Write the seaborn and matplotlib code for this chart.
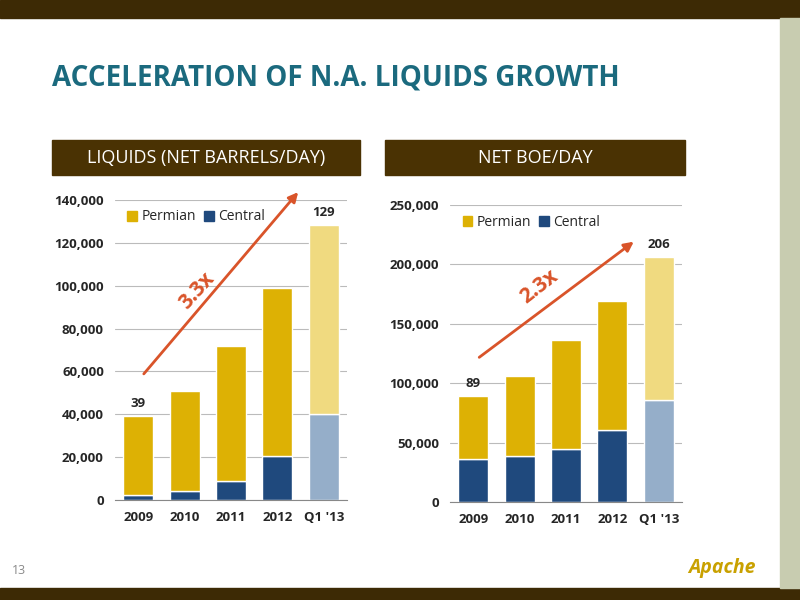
import matplotlib
matplotlib.use("Agg")
import matplotlib.pyplot as plt
import seaborn as sns
import pandas as pd
from matplotlib.patches import Rectangle

sns.set_style("white")
plt.rcParams['font.family'] = ['Open Sans', 'DejaVu Sans']

years = ["2009", "2010", "2011", "2012", "Q1 '13"]
liq_central = [2500, 4000, 9000, 20500, 40000]
liq_total = [39000, 51000, 72000, 99000, 128500]
boe_central = [36000, 39000, 45000, 61000, 86000]
boe_total = [89000, 106000, 136000, 169000, 206000]
liq_labels = {0: "39", 4: "129"}
boe_labels = {0: "89", 4: "206"}

W, H = 800, 600
fig = plt.figure(figsize=(8, 6), dpi=100)

def px(x0, y0, w, h):
    return [x0 / W, 1 - (y0 + h) / H, w / W, h / H]

bg = fig.add_axes([0, 0, 1, 1]); bg.set_axis_off(); bg.set_xlim(0, W); bg.set_ylim(H, 0)
bg.set_zorder(10); bg.patch.set_visible(False)
bg.add_patch(Rectangle((0, 0), W, 18, color="#3D2A05"))
bg.add_patch(Rectangle((0, 588), W, 12, color="#3D2A05"))
bg.add_patch(Rectangle((780, 18), 20, 570, color="#C8CCB0"))
bg.add_patch(Rectangle((52, 140), 308, 35, color="#4A3203"))
bg.add_patch(Rectangle((385, 140), 300, 35, color="#4A3203"))
bg.text(52, 78, "ACCELERATION OF N.A. LIQUIDS GROWTH", color="#1B6A7E", fontsize=20,
        fontweight="bold", va="center")
bg.text(206, 158, "LIQUIDS (NET BARRELS/DAY)", color="white", fontsize=13, ha="center", va="center")
bg.text(535, 158, "NET BOE/DAY", color="white", fontsize=13, ha="center", va="center")
bg.text(12, 570, "13", color="#8A8A8A", fontsize=9, va="center")
bg.text(722, 568, "Apache", color="#C9A100", fontsize=14, style="italic", fontweight="bold",
        ha="center", va="center")

def draw(rect, central, total, labels, ymax, step, arrow, arr_txt, txt_pos, rot):
    ax = fig.add_axes(px(*rect))
    perm = [t - c for t, c in zip(total, central)]
    df = pd.DataFrame({"year": years, "Central": central, "Permian": perm})
    sns.barplot(data=df, x="year", y="Central", color="#1F497D", width=0.65, ax=ax, saturation=1)
    sns.barplot(data=df, x="year", y="Permian", bottom=central, color="#DDB104", width=0.65,
                ax=ax, saturation=1)
    n = len(years)
    ax.patches[n - 1].set_facecolor("#95AEC9")
    ax.patches[2 * n - 1].set_facecolor("#F0DA80")
    ax.set_ylim(0, ymax)
    ax.set_yticks(range(0, ymax + 1, step))
    ax.set_yticklabels([f"{v:,}" for v in range(0, ymax + 1, step)])
    ax.yaxis.grid(True, color="#BBBBBB", lw=0.8)
    ax.set_axisbelow(True)
    ax.set_xlabel(""); ax.set_ylabel("")
    for s in ["top", "right", "left"]:
        ax.spines[s].set_visible(False)
    ax.spines["bottom"].set_color("#888888")
    ax.tick_params(labelsize=9.5, length=0, pad=8)
    for lab in ax.get_xticklabels() + ax.get_yticklabels():
        lab.set_fontweight("bold")
    for i, t in labels.items():
        ax.text(i, total[i] + ymax * 0.02, t, ha="center", va="bottom", fontsize=9.5, fontweight="bold")
    ax.legend(handles=[Rectangle((0, 0), 1, 1, color="#DDB104"), Rectangle((0, 0), 1, 1, color="#1F497D")],
              labels=["Permian", "Central"], ncol=2, frameon=False, loc="upper left",
              handlelength=0.7, handleheight=0.7, columnspacing=0.6, handletextpad=0.3,
              fontsize=10, bbox_to_anchor=(0.0, 1.01))
    (x0, y0), (x1, y1) = arrow
    bg.annotate("", xy=(x1, y1), xytext=(x0, y0),
                arrowprops=dict(arrowstyle="-|>", color="#D9542A", lw=2, mutation_scale=14))
    bg.text(txt_pos[0], txt_pos[1], arr_txt, rotation=rot, color="#D9542A", fontsize=15,
            fontweight="bold", ha="center", va="center")

draw((115, 200, 232, 300), liq_central, liq_total, liq_labels, 140000, 20000,
     ((142, 376), (300, 190)), "3.3x", (197, 291), 48)
draw((450, 205, 232, 297), boe_central, boe_total, boe_labels, 250000, 50000,
     ((477, 359), (636, 240)), "2.3x", (539, 287), 38)

fig.savefig("out.png", dpi=100)
